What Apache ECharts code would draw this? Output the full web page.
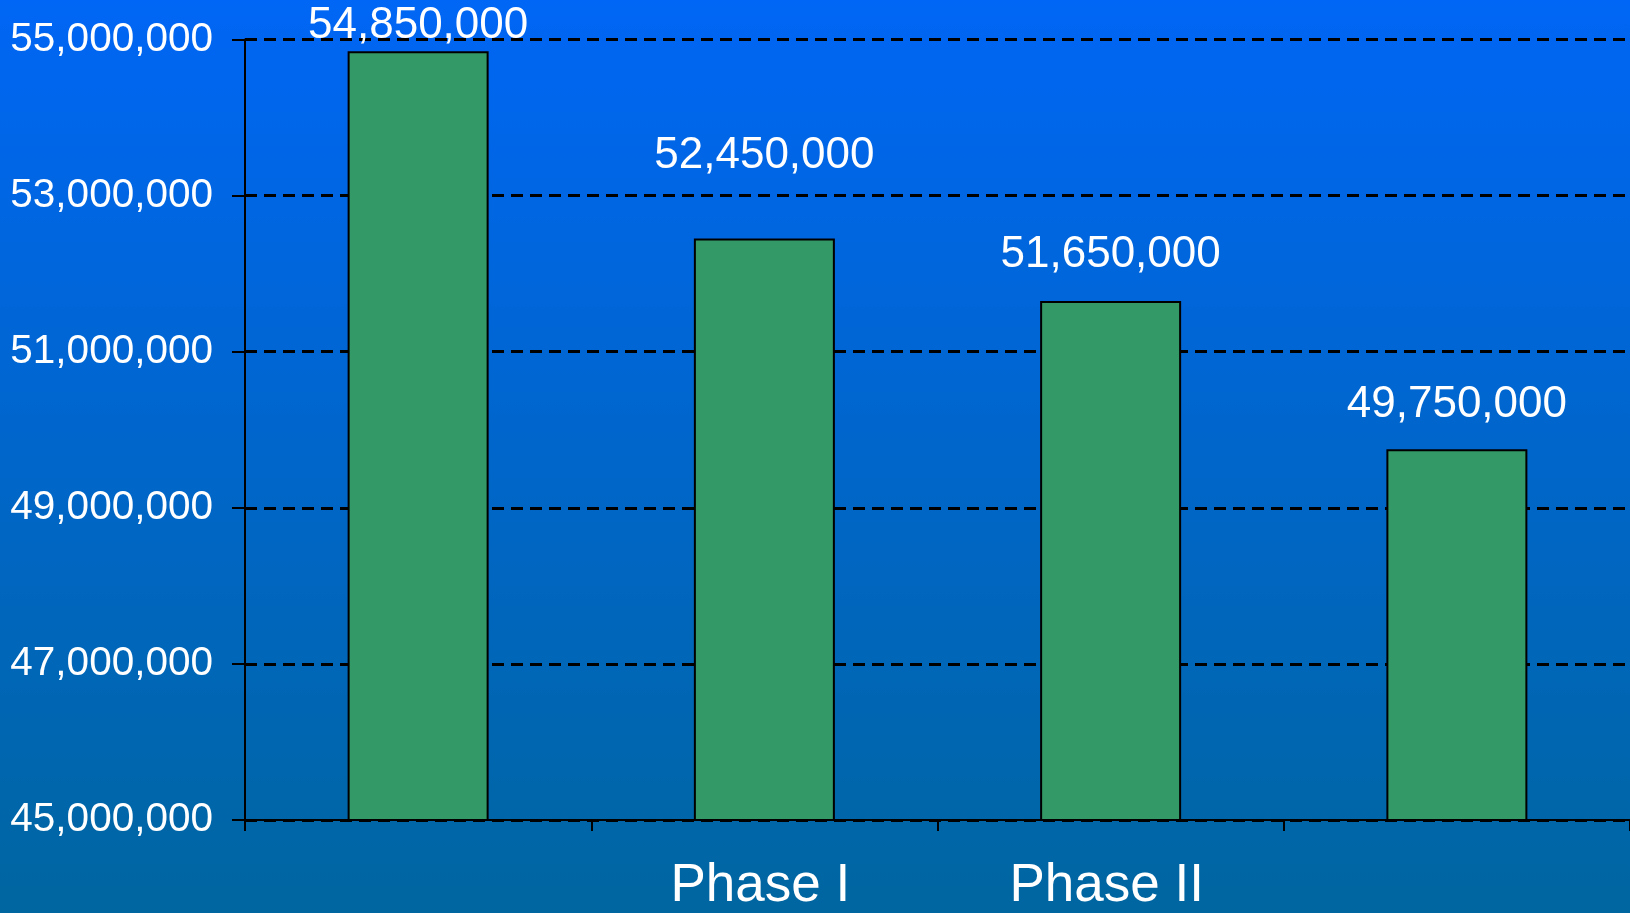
<!DOCTYPE html>
<html>
<head>
<meta charset="utf-8">
<title>Phase totals</title>
<script src="https://cdn.jsdelivr.net/npm/echarts@6/dist/echarts.min.js"></script>
<style>
  html, body { margin: 0; padding: 0; width: 100%; height: 100%; overflow: hidden; }
  #chart { width: 1630px; height: 913px; }
</style>
</head>
<body>
<div id="chart"></div>
<script>
// Category labels under the x axis (only the middle two are named)
const categories = ['', 'Phase I', 'Phase II', ''];
// Bar values
const values = [54850000, 52450000, 51650000, 49750000];
// Y axis range and step
const yMin = 45000000;
const yMax = 55000000;
const yStep = 2000000;

// Gap between each bar top and its value label
const labelGaps = [3, 61, 24, 22];

const fontFamily = '"Liberation Sans", Arial, sans-serif';
const fmt = v => Number(v).toLocaleString('en-US');

const chart = echarts.init(document.getElementById('chart'), null, { renderer: 'canvas' });

chart.setOption({
  animation: false,
  backgroundColor: new echarts.graphic.LinearGradient(0, 0, 0, 1, [
    { offset: 0, color: 'rgb(0,102,245)' },
    { offset: 1, color: 'rgb(0,102,160)' }
  ]),
  grid: { left: 245, right: 0, top: 39.5, bottom: 92, containLabel: false },
  xAxis: {
    type: 'category',
    data: categories,
    boundaryGap: true,
    axisLine: { show: true, lineStyle: { color: '#000', width: 2 } },
    axisTick: { show: true, alignWithLabel: false, interval: 0, length: 11, lineStyle: { color: '#000', width: 2 } },
    axisLabel: {
      interval: 0, margin: 40, color: '#fff', fontSize: 53, fontFamily,
      padding: [0, 8, 0, 0]
    },
    splitLine: { show: false }
  },
  yAxis: {
    type: 'value',
    min: yMin,
    max: yMax,
    interval: yStep,
    axisLine: { show: true, lineStyle: { color: '#000', width: 2 } },
    axisTick: { show: true, length: 13, lineStyle: { color: '#000', width: 2 } },
    axisLabel: {
      margin: 32, color: '#fff', fontSize: 40.5, fontFamily, formatter: fmt,
      padding: [6, 0, 0, 0]
    },
    splitLine: { show: true, lineStyle: { color: '#000', width: 3, type: [12, 7] } }
  },
  series: [{
    type: 'bar',
    data: values.map((v, i) => ({
      value: v,
      label: { distance: labelGaps[i] }
    })),
    barWidth: 141,
    itemStyle: { color: 'rgb(51,153,102)', borderColor: '#000', borderWidth: 2 },
    label: {
      show: true,
      position: 'top',
      color: '#fff',
      fontSize: 44,
      fontFamily,
      formatter: p => fmt(p.value)
    }
  }]
});
</script>
</body>
</html>
